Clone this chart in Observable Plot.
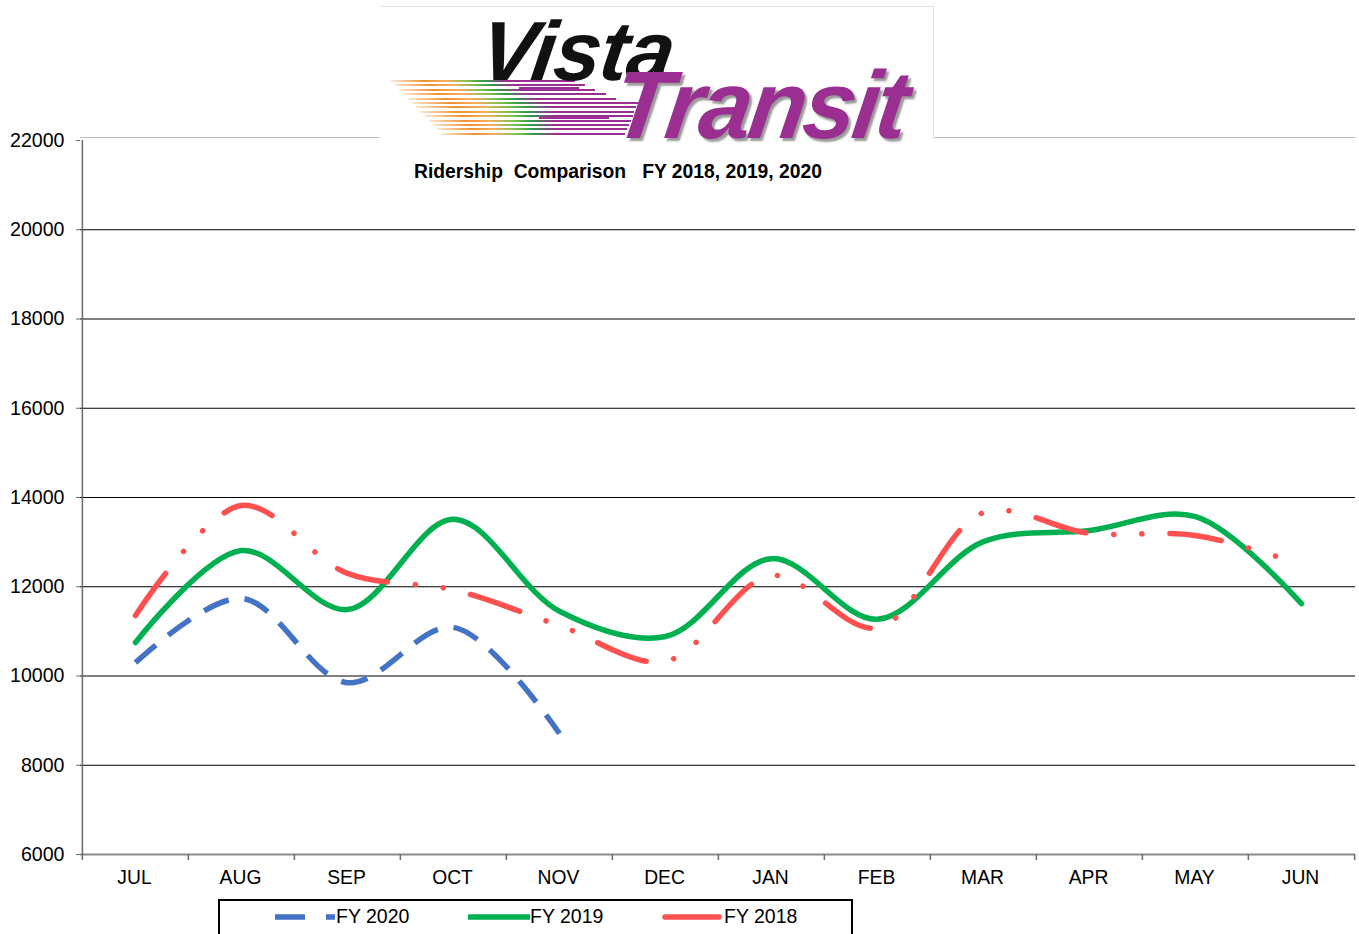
<!DOCTYPE html>
<html>
<head>
<meta charset="utf-8">
<script src="https://cdn.jsdelivr.net/npm/d3@7"></script>
<script src="https://cdn.jsdelivr.net/npm/@observablehq/plot@0.6"></script>
<style>
  html, body { margin: 0; padding: 0; background: #fff; }
  body { width: 1359px; height: 934px; position: relative; overflow: hidden; font-family: "Liberation Sans", Arial, sans-serif; }
  #chart { position: absolute; left: 0; top: 0; }
  #logo { position: absolute; left: 379px; top: 6px; width: 554px; height: 132px; background: #fff;
          border-top: 1px solid #e4e4e4; border-right: 1px solid #e4e4e4; }
  #logo .vista { position: absolute; left: 108px; top: 2px; line-height: 1; font: italic bold 84px/1 "Liberation Sans", Arial, sans-serif;
          color: #111; transform: skewX(-8deg); transform-origin: left top; letter-spacing: -1px; }
  #logo .transit { position: absolute; left: 242px; top: 50px; font: italic bold 96px/1 "Liberation Sans", Arial, sans-serif;
          color: #9a2f91; transform: skewX(-8deg) scaleX(0.98); transform-origin: left top; letter-spacing: -3px;
          text-shadow: 3px 3px 2px #9a9a9a; }
  #logo .stripe { position: absolute; height: 2px; }
  #title { position: absolute; left: 414px; top: 161px; font: bold 19.3px "Liberation Sans", Arial, sans-serif;
           white-space: pre; color: #000; }
  #legend { position: absolute; left: 218px; top: 899px; width: 631px; height: 60px; border: 2px solid #000; }
  .li { position: absolute; top: 4px; font: 19.5px "Liberation Sans", Arial, sans-serif; color: #000; white-space: pre; }
  .li svg { position: absolute; top: 0; }
</style>
</head>
<body>
<div id="chart"></div>
<div id="logo"></div>
<div id="title">Ridership  Comparison   FY 2018, 2019, 2020</div>
<div id="legend"></div>
<script>
// ---- data ----
const months = ["JUL", "AUG", "SEP", "OCT", "NOV", "DEC", "JAN", "FEB", "MAR", "APR", "MAY", "JUN"];
const fy2020 = [10300, 11740, 9850, 11090, 8710];
const fy2019 = [10750, 12810, 11490, 13510, 11450, 10885, 12630, 11270, 13010, 13260, 13570, 11620];
const fy2018 = [11356, 13820, 12300, 11930, 11130, 10330, 12250, 11080, 13660, 13200, 13150, 12500];
const yTicks = [6000, 8000, 10000, 12000, 14000, 16000, 18000, 20000, 22000];
const series = [
  {name: "FY 2020", values: fy2020, color: "#4472C4"},
  {name: "FY 2019", values: fy2019, color: "#00B050"},
  {name: "FY 2018", values: fy2018, color: "#FF5050"}
];

const rows = s => s.values.map((v, i) => ({month: months[i], value: v}));

const W = 1359, H = 895, mL = 80, mR = 4;
const half = (W - mL - mR) / months.length / 2;

const plot = Plot.plot({
  width: W, height: H,
  marginLeft: mL, marginRight: mR, marginTop: 140, marginBottom: 41,
  style: {fontFamily: "'Liberation Sans', Arial, sans-serif", fontSize: "19px", color: "#000", background: "#fff"},
  x: {type: "point", domain: months, padding: 0.5, label: null},
  y: {domain: [6000, 22000], label: null},
  marks: [
    Plot.ruleY(yTicks.filter(d => d > 6000 && d < 22000), {stroke: "#000", strokeWidth: 1}),
    Plot.ruleY([22000], {stroke: "#bbb", strokeWidth: 1, dy: -3}),
    Plot.ruleY([6000], {stroke: "#8a8a8a", strokeWidth: 2}),
    Plot.ruleX([months[0]], {dx: -half, y1: 6000, y2: 22000, stroke: "#6a6a6a", strokeWidth: 1.5}),
    Plot.ruleX(months, {dx: -half, y1: 6000, y2: 6000, insetBottom: -6, stroke: "#6a6a6a", strokeWidth: 1.5}),
    Plot.ruleX([months[months.length - 1]], {dx: half, y1: 6000, y2: 6000, insetBottom: -6, stroke: "#6a6a6a", strokeWidth: 1.5}),
    Plot.axisY({ticks: yTicks, tickSize: 4, tickPadding: 12, tickFormat: d3.format("d"), fontSize: 19.6, stroke: "#6a6a6a"}),
    Plot.axisX({tickSize: 0, tickPadding: 15.5, fontSize: 19.3, dx: -1}),
    Plot.line(rows(series[1]), {x: "month", y: "value", stroke: series[1].color, strokeWidth: 5.5, curve: "catmull-rom"}),
    Plot.line(rows(series[2]), {x: "month", y: "value", stroke: series[2].color, strokeWidth: 5.5, curve: "catmull-rom",
      strokeDasharray: "52,28,0.1,28,0.1,28", strokeLinecap: "round"}),
    Plot.line(rows(series[0]), {x: "month", y: "value", stroke: series[0].color, strokeWidth: 5.5, curve: "catmull-rom",
      strokeDasharray: "27,16", strokeLinecap: "butt"})
  ]
});
document.getElementById("chart").appendChild(plot);

// ---- logo (decoration) ----
const logo = document.getElementById("logo");
for (let k = 0; k < 13; k++) {
  const s = document.createElement("div");
  s.className = "stripe";
  const left = 12 + k * 4.2;
  const top = 73 + k * 4.4;
  const width = 220 - Math.abs(k - 6) * 6;
  s.style.left = left + "px";
  s.style.top = top + "px";
  s.style.width = width + "px";
  s.style.background = "linear-gradient(90deg, rgba(240,140,40,0.2) 0%, #f0902e 18%, #f4b060 30%, #7bbf4a 42%, #2f9e4b 50%, #9a2f91 62%, #9a2f91 100%)";
  logo.appendChild(s);
}
[[140, 80, 60], [200, 95, 75], [160, 110, 70]].forEach(([l, t, w]) => {
  const s = document.createElement("div");
  s.className = "stripe";
  s.style.left = l + "px"; s.style.top = t + "px"; s.style.width = w + "px"; s.style.height = "1.5px";
  s.style.background = "#9a2f91";
  logo.appendChild(s);
});
logo.insertAdjacentHTML("beforeend", '<span class="vista">Vista</span><span class="transit">Transit</span>');

// ---- legend ----
const legend = document.getElementById("legend");
const items = [
  {s: series[0], sx: 55, tx: 116, sw: 60, dash: "30,21", cap: "butt"},
  {s: series[1], sx: 248, tx: 310, sw: 62, dash: null, cap: "butt"},
  {s: series[2], sx: 442, tx: 504, sw: 60, dash: null, cap: "round"}
];
items.forEach(it => {
  const d = document.createElement("div");
  d.className = "li";
  d.style.left = it.sx + "px";
  d.innerHTML = `<svg width="${it.sw}" height="24" style="left:0"><line x1="${it.cap === "round" ? 3 : 0}" x2="${it.sw - (it.cap === "round" ? 3 : 0)}" y1="12" y2="12" stroke="${it.s.color}" stroke-width="5.5" stroke-linecap="${it.cap}" ${it.dash ? `stroke-dasharray="${it.dash}"` : ""}/></svg><span style="position:absolute;left:${it.tx - it.sx}px;top:0">${it.s.name}</span>`;
  legend.appendChild(d);
});
</script>
</body>
</html>
